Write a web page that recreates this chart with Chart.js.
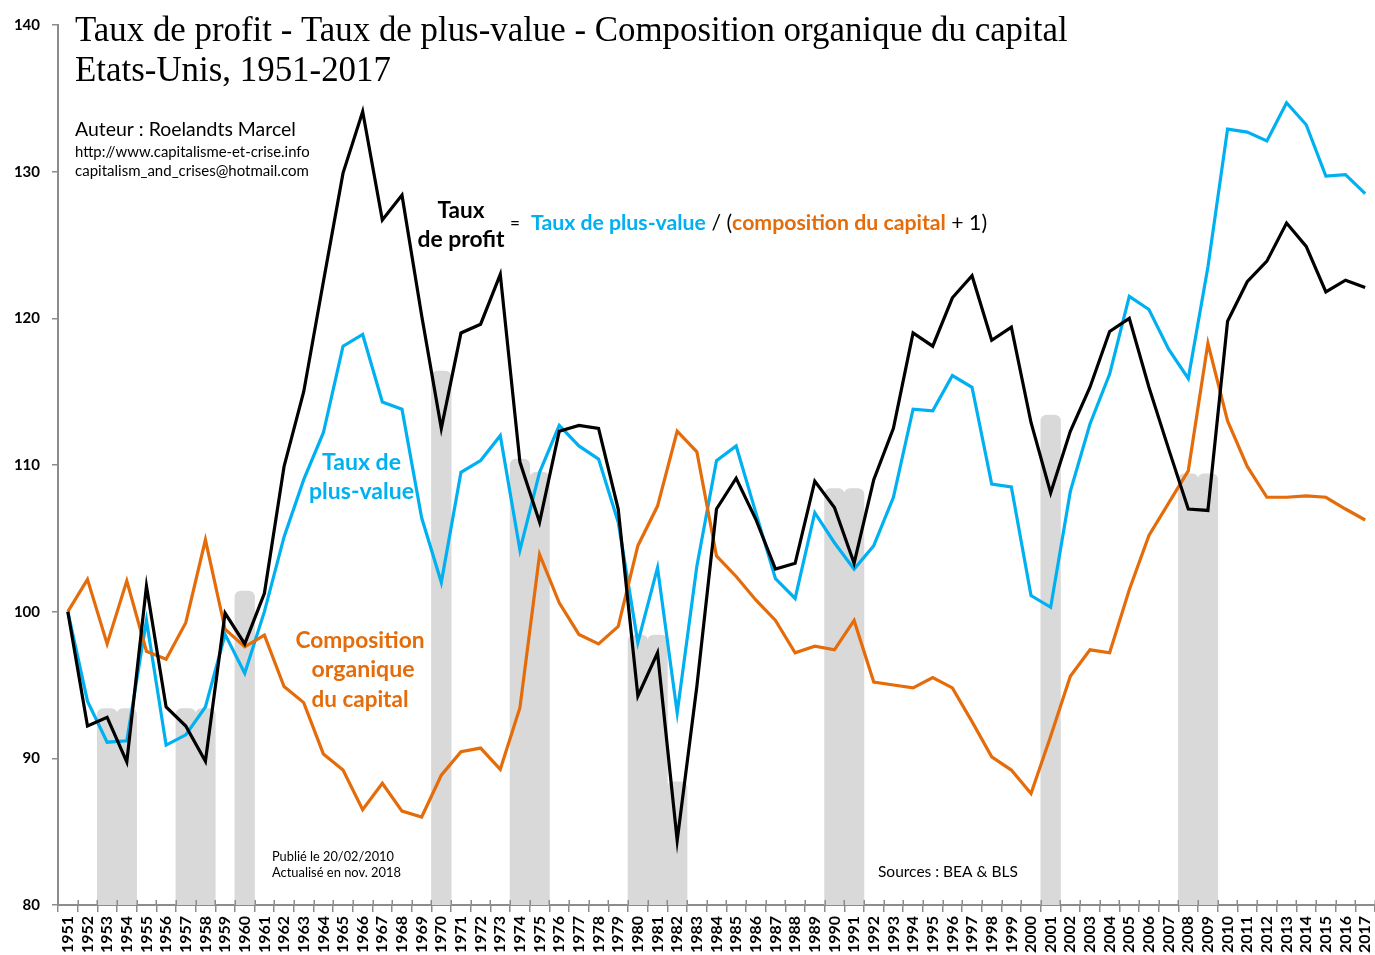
<!DOCTYPE html>
<html lang="fr">
<head>
<meta charset="utf-8">
<title>Taux de profit - Etats-Unis, 1951-2017</title>
<script src="https://cdn.jsdelivr.net/npm/chart.js@4.4.1/dist/chart.umd.min.js"></script>
<style>
  html, body { margin: 0; padding: 0; background: #fff; overflow: hidden; }
  #zone { position: relative; width: 1375px; height: 955px; }
</style>
</head>
<body>
<div id="zone"><canvas id="graphique"></canvas></div>
<script>
const annees = ['1951','1952','1953','1954','1955','1956','1957','1958','1959','1960',
  '1961','1962','1963','1964','1965','1966','1967','1968','1969','1970',
  '1971','1972','1973','1974','1975','1976','1977','1978','1979','1980',
  '1981','1982','1983','1984','1985','1986','1987','1988','1989','1990',
  '1991','1992','1993','1994','1995','1996','1997','1998','1999','2000',
  '2001','2002','2003','2004','2005','2006','2007','2008','2009','2010',
  '2011','2012','2013','2014','2015','2016','2017'];

const tauxProfit = [100, 92.2, 92.8, 89.75, 101.75, 93.5, 92.2, 89.8, 99.9, 97.8,
  101.25, 109.9, 115.0, 122.5, 129.9, 134.1, 126.7, 128.4, 120.2, 112.5,
  119.0, 119.6, 123.0, 110.2, 106.1, 112.3, 112.7, 112.5, 107.0, 94.25,
  97.2, 84.4, 94.9, 107.0, 109.1, 106.3, 102.9, 103.3, 108.9, 107.1,
  103.3, 109.0, 112.5, 119.0, 118.1, 121.4, 122.9, 118.5, 119.4, 112.9,
  108.1, 112.3, 115.3, 119.1, 120.0, 115.3, 111.1, 107.0, 106.9, 119.8,
  122.5, 123.9, 126.5, 124.9, 121.8, 122.6, 122.1];

const tauxPlusValue = [100, 93.9, 91.1, 91.2, 99.4, 90.9, 91.6, 93.5, 98.45, 95.8,
  100.0, 105.1, 109.0, 112.2, 118.1, 118.9, 114.3, 113.8, 106.4, 102.0,
  109.5, 110.3, 112.0, 104.2, 109.5, 112.7, 111.3, 110.4, 106.1, 97.9,
  103.0, 93.1, 103.1, 110.3, 111.3, 106.75, 102.25, 100.9, 106.75, 104.7,
  102.9, 104.5, 107.8, 113.8, 113.7, 116.1, 115.3, 108.7, 108.5, 101.1,
  100.3, 108.2, 112.8, 116.2, 121.5, 120.6, 117.9, 115.9, 123.5, 132.9,
  132.7, 132.1, 134.7, 133.2, 129.7, 129.8, 128.5];

const compositionOrganique = [100, 102.2, 97.8, 102.1, 97.3, 96.75, 99.25, 104.9, 98.8, 97.6,
  98.4, 94.9, 93.8, 90.3, 89.2, 86.5, 88.3, 86.4, 86.0, 88.85,
  90.45, 90.7, 89.25, 93.45, 103.9, 100.6, 98.45, 97.8, 99.0, 104.5,
  107.2, 112.3, 110.9, 103.8, 102.4, 100.8, 99.4, 97.2, 97.65, 97.4,
  99.4, 95.2, 95.0, 94.8, 95.5, 94.8, 92.5, 90.1, 89.2, 87.6,
  91.5, 95.6, 97.4, 97.2, 101.5, 105.2, 107.4, 109.6, 118.3, 113.0,
  109.9, 107.8, 107.8, 107.9, 107.8, 107.0, 106.25];

// Récessions : barres grises
const anneesRecession = ['1953','1954','1957','1958','1960','1970','1974','1975',
  '1980','1981','1982','1990','1991','2001','2008','2009'];
const hauteursRecession = [93.4, 93.4, 93.4, 93.4, 101.4, 116.4, 110.4, 109.5,
  98.4, 98.4, 88.4, 108.4, 108.4, 113.4, 109.4, 109.4];

const ticksY = [80, 90, 100, 110, 120, 130, 140];

const BLEU = '#00b0f0';
const ORANGE = '#e46c0a';
const GRIS_AXE = '#8c8c8c';
const SANS = 'Lato, "Open Sans", sans-serif';
const SERIF = '"Liberation Serif", "DejaVu Serif", serif';

// une valeur par année, null hors récession
const barresRecession = annees.map(a => {
  const i = anneesRecession.indexOf(a);
  return i >= 0 ? hauteursRecession[i] : null;
});

// Ecrit un texte en ajustant la taille pour qu'il occupe la largeur voulue
function texteAjuste(ctx, texte, x, y, largeur, poids, famille, couleur, align) {
  ctx.font = poids + ' 20px ' + famille;
  const taille = 20 * largeur / ctx.measureText(texte).width;
  ctx.font = poids + ' ' + taille.toFixed(2) + 'px ' + famille;
  ctx.fillStyle = couleur;
  ctx.textAlign = align || 'left';
  ctx.textBaseline = 'alphabetic';
  ctx.fillText(texte, x, y);
}

// Formule en plusieurs couleurs sur une ligne
function formule(ctx, morceaux, x, y, largeur, taille) {
  let total = 0;
  morceaux.forEach(m => {
    ctx.font = m.poids + ' ' + taille + 'px ' + SANS;
    total += ctx.measureText(m.t).width;
  });
  const t = taille * largeur / total;
  let cx = x;
  ctx.textAlign = 'left';
  ctx.textBaseline = 'alphabetic';
  morceaux.forEach(m => {
    ctx.font = m.poids + ' ' + t.toFixed(2) + 'px ' + SANS;
    ctx.fillStyle = m.c;
    ctx.fillText(m.t, cx, y);
    cx += ctx.measureText(m.t).width;
  });
}

// petits traits des graduations X au-dessus de l'axe (traits croisés comme dans Excel)
const traitsCroises = {
  id: 'traitsCroises',
  afterDatasetsDraw(chart) {
    const ctx = chart.ctx;
    const area = chart.chartArea;
    const pas = (area.right - area.left) / annees.length;
    ctx.save();
    ctx.strokeStyle = GRIS_AXE;
    ctx.lineWidth = 1.5;
    ctx.beginPath();
    for (let i = 0; i <= annees.length; i++) {
      const x = Math.round(area.left + i * pas) + 0.25;
      ctx.moveTo(x, area.bottom);
      ctx.lineTo(x, area.bottom - 5);
    }
    ctx.stroke();
    ctx.restore();
  }
};

const annotations = {
  id: 'annotations',
  afterDraw(chart) {
    const ctx = chart.ctx;
    ctx.save();
    // titre
    texteAjuste(ctx, 'Taux de profit - Taux de plus-value - Composition organique du capital', 75, 41, 993, 'normal', SERIF, '#000');
    texteAjuste(ctx, 'Etats-Unis, 1951-2017', 75, 81, 316, 'normal', SERIF, '#000');
    // auteur
    texteAjuste(ctx, 'Auteur : Roelandts Marcel', 75, 136, 221, 'normal', SANS, '#000');
    texteAjuste(ctx, 'http://www.capitalisme-et-crise.info', 75, 157, 235, 'normal', SANS, '#000');
    texteAjuste(ctx, 'capitalism_and_crises@hotmail.com', 75, 176, 234, 'normal', SANS, '#000');
    // formule
    texteAjuste(ctx, 'Taux', 461, 218, 47, 'bold', SANS, '#000', 'center');
    texteAjuste(ctx, 'de profit', 461, 247, 87, 'bold', SANS, '#000', 'center');
    texteAjuste(ctx, '=', 515, 229, 10, 'normal', SANS, '#000', 'center');
    formule(ctx, [
      { t: 'Taux de plus-value', poids: 'bold', c: BLEU },
      { t: ' / (', poids: 'normal', c: '#000' },
      { t: 'composition du capital', poids: 'bold', c: ORANGE },
      { t: ' + 1)', poids: 'normal', c: '#000' }
    ], 531, 230, 456, 20);
    // étiquettes des courbes
    texteAjuste(ctx, 'Taux de', 361.5, 470, 79, 'bold', SANS, BLEU, 'center');
    texteAjuste(ctx, 'plus-value', 361.5, 499, 105, 'bold', SANS, BLEU, 'center');
    texteAjuste(ctx, 'Composition', 360, 648, 129, 'bold', SANS, ORANGE, 'center');
    texteAjuste(ctx, 'organique', 363, 677, 103, 'bold', SANS, ORANGE, 'center');
    texteAjuste(ctx, 'du capital', 360, 707, 97, 'bold', SANS, ORANGE, 'center');
    // mentions
    texteAjuste(ctx, 'Publié le 20/02/2010', 272, 861, 122, 'normal', SANS, '#000');
    texteAjuste(ctx, 'Actualisé en nov. 2018', 272, 877, 129, 'normal', SANS, '#000');
    texteAjuste(ctx, 'Sources : BEA & BLS', 878, 877, 140, 'normal', SANS, '#000');
    ctx.restore();
  }
};

const ligne = (label, data, couleur, ordre) => ({
  type: 'line',
  label: label,
  data: data,
  borderColor: couleur,
  backgroundColor: couleur,
  borderWidth: 3.2,
  pointRadius: 0,
  tension: 0,
  order: ordre
});

new Chart(document.getElementById('graphique'), {
  data: {
    labels: annees,
    datasets: [
      ligne('Taux de profit', tauxProfit, '#000000', 1),
      ligne('Composition organique du capital', compositionOrganique, ORANGE, 2),
      ligne('Taux de plus-value', tauxPlusValue, BLEU, 3),
      {
        type: 'bar',
        label: 'Récessions',
        data: barresRecession,
        backgroundColor: '#d9d9d9',
        barPercentage: 1,
        categoryPercentage: 1,
        borderRadius: { topLeft: 6, topRight: 6, bottomLeft: 0, bottomRight: 0 },
        borderSkipped: 'bottom',
        order: 10
      }
    ]
  },
  options: {
    responsive: true,
    maintainAspectRatio: false,
    animation: false,
    events: [],
    layout: { padding: { top: 25, right: 0, bottom: 0, left: 0 } },
    plugins: {
      legend: { display: false },
      tooltip: { enabled: false },
      title: { display: false }
    },
    scales: {
      x: {
        type: 'category',
        offset: true,
        grid: { offset: true, drawOnChartArea: false, drawTicks: true, tickLength: 7, color: GRIS_AXE, lineWidth: 1.5 },
        border: { color: GRIS_AXE, width: 2 },
        ticks: {
          autoSkip: false,
          minRotation: 90,
          maxRotation: 90,
          padding: 4,
          color: '#000',
          font: { family: SANS, size: 16, weight: 'bold' }
        },
        afterFit(scale) {
          scale.height = 50;
          scale.paddingLeft = 0;
          scale.paddingRight = 0;
        }
      },
      y: {
        min: 80,
        max: 140,
        grid: { drawOnChartArea: false, drawTicks: true, tickLength: 6, color: GRIS_AXE, lineWidth: 1.5 },
        border: { color: GRIS_AXE, width: 2 },
        ticks: {
          padding: 12,
          color: '#000',
          font: { family: SANS, size: 15, weight: 'bold' }
        },
        afterBuildTicks(scale) { scale.ticks = ticksY.map(v => ({ value: v })); },
        afterFit(scale) { scale.width = 58; }
      }
    }
  },
  plugins: [traitsCroises, annotations]
});
</script>
</body>
</html>
